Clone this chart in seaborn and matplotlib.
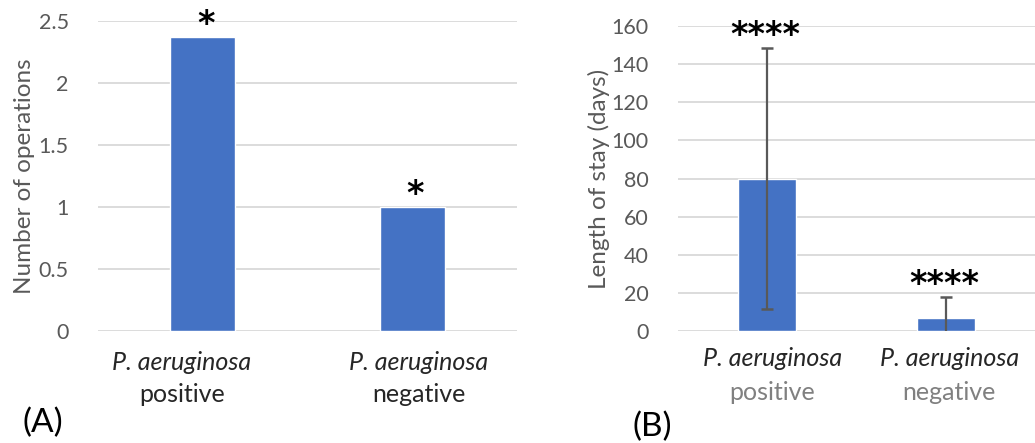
import matplotlib
matplotlib.use('Agg')
import matplotlib.pyplot as plt
import seaborn as sns
import pandas as pd

# Data
GROUPS = ['positive', 'negative']
SPECIES = 'P. aeruginosa'
OPERATIONS = [2.37, 1.0]
STAY_MEAN = [80, 7]
STAY_SD = [68.6, 11]
STARS_A = ['*', '*']
STARS_B = ['****', '****']

BLUE = '#4472C4'
GRID = '#D9D9D9'
TICK = '#595959'

sns.set_theme(style='white')
plt.rcParams['font.family'] = ['Lato', 'DejaVu Sans']


def style_axis(ax, ymax, step, fmt):
    ax.set_ylim(0, ymax)
    ax.set_xlim(-0.5, 1.5)
    ticks = [i * step for i in range(int(round(ymax / step)) + 1)]
    ax.set_yticks(ticks, labels=[fmt(t) for t in ticks])
    ax.yaxis.grid(True, color=GRID, lw=1.3)
    ax.set_axisbelow(True)
    for s in ax.spines.values():
        s.set_visible(False)
    ax.tick_params(axis='y', length=0, pad=21, labelsize=15.5, labelcolor=TICK)
    ax.set_xticks([0, 1], labels=['', ''])
    ax.tick_params(axis='x', length=0)
    ax.set_xlabel('')


def group_labels(ax, y1, y2, second_color, offsets):
    tr = ax.get_xaxis_transform()
    for i, g in enumerate(GROUPS):
        ax.text(i + offsets[i], y1, SPECIES, transform=tr, ha='center', va='center',
                fontsize=18, style='italic', color='#262626')
        ax.text(i + offsets[i], y2, g, transform=tr, ha='center', va='center',
                fontsize=18, color=second_color)


fig = plt.figure(figsize=(10.35, 4.43), dpi=100)

# (A) number of operations
ax1 = fig.add_axes([0.0947, 0.2528, 0.405, 0.6998])
df_a = pd.DataFrame({'group': GROUPS, 'ops': OPERATIONS})
sns.barplot(data=df_a, x='group', y='ops', color=BLUE, saturation=1,
            width=0.31, errorbar=None, ax=ax1)
style_axis(ax1, 2.5, 0.5, lambda t: f'{t:g}')
ax1.set_ylabel('Number of operations', fontsize=17.5, color=TICK, labelpad=3)
for i, v in enumerate(OPERATIONS):
    ax1.annotate(STARS_A[i], (i, v), xytext=(2, 9), textcoords='offset points',
                 ha='center', va='center', fontsize=24, fontweight='bold',
                 color='black', family='DejaVu Sans', annotation_clip=False)
group_labels(ax1, -0.103, -0.206, '#262626', [-0.1, 0.03])

# (B) length of stay
ax2 = fig.add_axes([0.655, 0.2528, 0.345, 0.6885])
df_b = pd.DataFrame({'group': GROUPS, 'stay': STAY_MEAN})
sns.barplot(data=df_b, x='group', y='stay', color=BLUE, saturation=1,
            width=0.325, errorbar=None, ax=ax2)
style_axis(ax2, 160, 20, lambda t: f'{t:g}')
ax2.set_ylabel('Length of stay (days)', fontsize=17.5, color=TICK, labelpad=1)
for i, (m, sd) in enumerate(zip(STAY_MEAN, STAY_SD)):
    lo = max(m - sd, 0)
    hi = m + sd
    ax2.vlines(i, lo, hi, color=TICK, lw=1.6, zorder=3)
    ax2.plot([i], [hi], marker='_', ms=8.5, mew=1.8, color=TICK, zorder=3)
    if lo > 0:
        ax2.plot([i], [lo], marker='_', ms=8.5, mew=1.8, color=TICK, zorder=3)
    ax2.annotate(STARS_B[i], (i, hi), xytext=(-1, 9), textcoords='offset points',
                 ha='center', va='center', fontsize=24, fontweight='bold',
                 color='black', family='DejaVu Sans', annotation_clip=False)
group_labels(ax2, -0.0885, -0.203, '#808080', [0.03, 0.02])

fig.text(22 / 1035, 1 - 423 / 443, '(A)', fontsize=24, va='center', ha='left', color='black')
fig.text(632 / 1035, 1 - 427 / 443, '(B)', fontsize=24, va='center', ha='left', color='black')

fig.savefig('out.png', dpi=100)
